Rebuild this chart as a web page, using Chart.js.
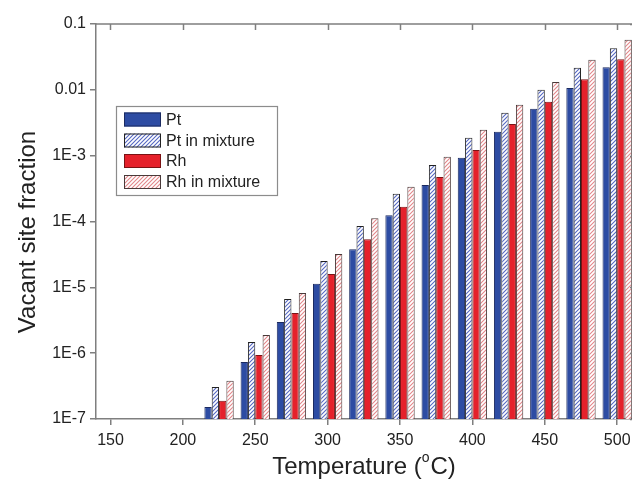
<!DOCTYPE html>
<html><head><meta charset="utf-8">
<script src="https://cdn.jsdelivr.net/npm/chart.js@4.4.1/dist/chart.umd.min.js"></script>
<style>
html,body{margin:0;padding:0;background:#fff;overflow:hidden;width:632px;height:490px}
#wrap{width:645px;height:490px;position:relative}
</style>
</head><body>
<div id="wrap"><canvas id="c" width="645" height="490"></canvas></div>
<script>
// ---- data ----
const temperatures = [225, 250, 275, 300, 325, 350, 375, 400, 425, 450, 475, 500];
const ptValues      = [1.52e-7, 7.35e-7, 2.98e-6, 1.13e-5, 3.79e-5, 1.24e-4, 3.60e-4, 9.27e-4, 2.30e-3, 5.14e-3, 1.07e-2, 2.20e-2];
const ptMixValues   = [3.06e-7, 1.48e-6, 6.67e-6, 2.52e-5, 8.57e-5, 2.63e-4, 7.24e-4, 1.87e-3, 4.47e-3, 1.00e-2, 2.16e-2, 4.27e-2];
const rhValues      = [1.90e-7, 9.40e-7, 4.08e-6, 1.60e-5, 5.38e-5, 1.67e-4, 4.76e-4, 1.22e-3, 3.04e-3, 6.58e-3, 1.45e-2, 2.91e-2];
const rhMixValues   = [3.82e-7, 1.89e-6, 8.22e-6, 3.22e-5, 1.12e-4, 3.36e-4, 9.60e-4, 2.47e-3, 5.92e-3, 1.32e-2, 2.86e-2, 5.75e-2];
const seriesLabels  = ['Pt', 'Pt in mixture', 'Rh', 'Rh in mixture'];
const xTickValues   = [150, 200, 250, 300, 350, 400, 450, 500];
const yTickValues   = [1e-7, 1e-6, 1e-5, 1e-4, 1e-3, 1e-2, 1e-1];
const yTickLabels   = ['1E-7', '1E-6', '1E-5', '1E-4', '1E-3', '0.01', '0.1'];
const xTitle = 'Temperature (';
const xTitleSup = 'o';
const xTitleEnd = 'C)';
const yTitle = 'Vacant site fraction';

// ---- styles ----
const canvas = document.getElementById('c');
const ctx = canvas.getContext('2d');
const AXIS = '#7f7f7f';
const TXT = '#222222';
const FONT = '"Liberation Sans", Arial, sans-serif';

function hatch(lineColor) {
  const s = 4;
  const c = document.createElement('canvas');
  c.width = s; c.height = s;
  const g = c.getContext('2d');
  g.fillStyle = '#ffffff'; g.fillRect(0, 0, s, s);
  g.strokeStyle = lineColor; g.lineWidth = 1.1;
  g.beginPath();
  g.moveTo(-1, s + 1); g.lineTo(s + 1, -1);
  g.moveTo(-1, 1); g.lineTo(1, -1);
  g.moveTo(s - 1, s + 1); g.lineTo(s + 1, s - 1);
  g.stroke();
  return ctx.createPattern(c, 'repeat');
}

const fills = ['#2d4ca3', hatch('#5567c2'), '#e5212b', hatch('#e3868a')];
const borders = ['#1b2a60', '#222222', '#7a1214', '#4a3a3a'];
const seriesValues = [ptValues, ptMixValues, rhValues, rhMixValues];

const datasets = seriesLabels.map((lab, k) => ({
  label: lab,
  data: temperatures.map((t, i) => ({ x: t, y: seriesValues[k][i] })),
  backgroundColor: fills[k],
  borderColor: borders[k],
  borderWidth: 1,
  borderSkipped: 'start',
  categoryPercentage: 0.81,
  barPercentage: 1.0
}));

const decorPlugin = {
  id: 'decor',
  afterDraw(chart) {
    const c = chart.ctx;
    const a = chart.chartArea;
    const xs = chart.scales.x, ys = chart.scales.y;
    c.save();
    // top & right axes with inward ticks
    c.strokeStyle = AXIS; c.lineWidth = 1.5;
    c.beginPath();
    c.moveTo(a.left, a.top); c.lineTo(a.right, a.top);
    c.moveTo(a.right, a.top); c.lineTo(a.right, a.bottom);
    xTickValues.forEach(v => {
      const p = Math.round(xs.getPixelForValue(v)) + 0.5;
      c.moveTo(p, a.top); c.lineTo(p, a.top + 6);
    });
    yTickValues.forEach(v => {
      const p = Math.round(ys.getPixelForValue(v)) + 0.5;
      c.moveTo(a.right, p); c.lineTo(a.right - 6, p);
    });
    c.stroke();

    // legend
    const bx = 116, by = 106, bw = 161, bh = 89;
    c.fillStyle = '#ffffff';
    c.fillRect(bx, by, bw, bh);
    c.strokeStyle = '#8c8c8c'; c.lineWidth = 1.2;
    c.strokeRect(bx + 0.5, by + 0.5, bw, bh);
    const rows = [119.5, 140.5, 161, 182];
    c.font = '16px ' + FONT;
    c.textBaseline = 'middle';
    c.textAlign = 'left';
    chart.data.datasets.forEach((ds, k) => {
      const cy = rows[k];
      c.fillStyle = ds.backgroundColor;
      c.fillRect(124, cy - 7, 37, 14);
      c.strokeStyle = ds.borderColor; c.lineWidth = 1;
      c.strokeRect(124.5, cy - 6.5, 36, 13);
      c.fillStyle = TXT;
      c.fillText(ds.label, 166, cy + 1);
    });

    // axis titles
    c.fillStyle = TXT;
    c.font = '24px ' + FONT;
    c.textBaseline = 'middle';
    const w1 = c.measureText(xTitle).width;
    c.font = '14px ' + FONT;
    const w2 = c.measureText(xTitleSup).width;
    c.font = '24px ' + FONT;
    const w3 = c.measureText(xTitleEnd).width;
    const total = w1 + w2 + 1 + w3;
    let x0 = 364 - total / 2;
    const ty = 467;
    c.textAlign = 'left';
    c.fillText(xTitle, x0, ty);
    c.font = '14px ' + FONT;
    c.fillText(xTitleSup, x0 + w1, ty - 9);
    c.font = '24px ' + FONT;
    c.fillText(xTitleEnd, x0 + w1 + w2 + 1, ty);

    c.translate(28, 232);
    c.rotate(-Math.PI / 2);
    c.textAlign = 'center';
    c.fillText(yTitle, 0, 0);
    c.restore();
  }
};

new Chart(ctx, {
  type: 'bar',
  data: { datasets },
  options: {
    responsive: false,
    devicePixelRatio: 1,
    animation: false,
    layout: { padding: { top: 24, right: 9, left: 0, bottom: 0 } },
    plugins: { legend: { display: false }, tooltip: { enabled: false } },
    scales: {
      x: {
        type: 'linear',
        min: 140, max: 513,
        offset: false,
        afterBuildTicks: s => { s.ticks = xTickValues.map(v => ({ value: v })); },
        afterFit: s => { s.height = 71; },
        grid: { offset: false, drawOnChartArea: false, drawTicks: true, tickLength: 6, color: AXIS, lineWidth: 1.5 },
        border: { display: true, color: AXIS, width: 1.5 },
        ticks: { color: TXT, font: { size: 16, family: FONT }, padding: 6, maxRotation: 0, autoSkip: false,
                 callback: v => String(v) }
      },
      y: {
        type: 'logarithmic',
        min: 1e-7, max: 0.1,
        afterBuildTicks: s => { s.ticks = yTickValues.map(v => ({ value: v })); },
        afterFit: s => { s.width = 96; },
        grid: { drawOnChartArea: false, drawTicks: true, tickLength: 6, color: AXIS, lineWidth: 1.5 },
        border: { display: true, color: AXIS, width: 1.5 },
        ticks: { color: TXT, font: { size: 16, family: FONT }, padding: 4, autoSkip: false,
                 callback: (v, i) => yTickLabels[i] }
      }
    }
  },
  plugins: [decorPlugin]
});
</script>
</body></html>
